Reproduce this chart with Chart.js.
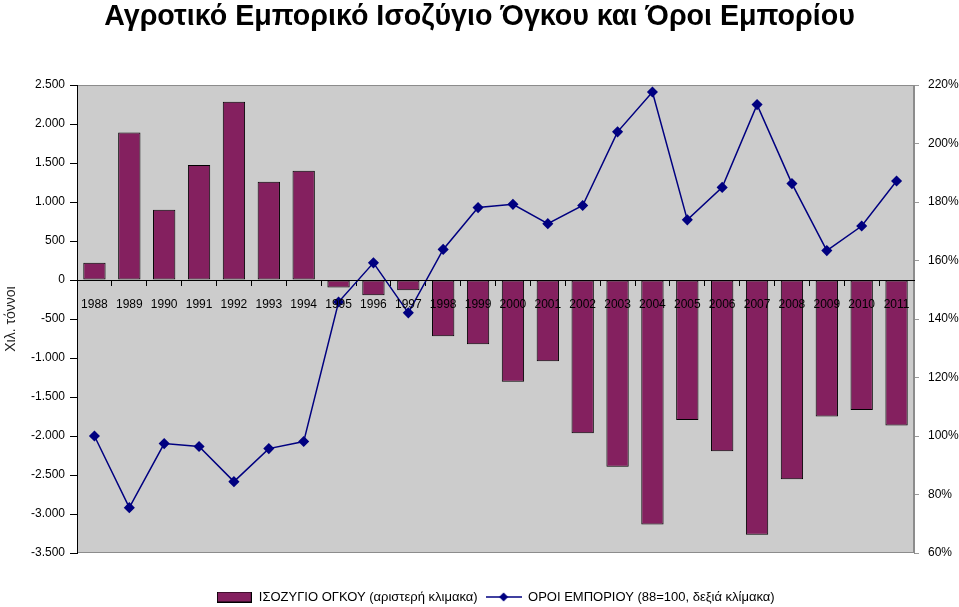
<!DOCTYPE html>
<html>
<head>
<meta charset="utf-8">
<script src="https://cdn.jsdelivr.net/npm/chart.js@4.4.1/dist/chart.umd.min.js"></script>
<style>
  html, body { margin: 0; padding: 0; background: #fff; }
</style>
</head>
<body>
<canvas id="chart" width="959" height="607"></canvas>
<script>
// δεδομένα
var years = ["1988", "1989", "1990", "1991", "1992", "1993", "1994", "1995", "1996", "1997", "1998", "1999",
             "2000", "2001", "2002", "2003", "2004", "2005", "2006", "2007", "2008", "2009", "2010", "2011"];
// ισοζύγιο όγκου, χιλ. τόννοι (αριστερή κλίμακα)
var balance = [220, 1890, 900, 1475, 2285, 1260, 1400, -95, -195, -130, -720, -825,
               -1305, -1040, -1965, -2395, -3135, -1795, -2195, -3265, -2555, -1750, -1665, -1865];
// όροι εμπορίου, 88=100 (δεξιά κλίμακα)
var terms = [100, 75.5, 97.4, 96.4, 84.4, 95.7, 98.1, 145.8, 159.2, 142.1, 163.8, 178.1,
             179.2, 172.6, 178.8, 204, 217.6, 173.9, 185, 213.3, 186.3, 163.4, 171.8, 187.2];
// άξονες
var leftAxis = [-3500, 2500, 500];
var rightAxis = [60, 220, 20];

var barColor = "#84205f";
var lineColor = "#000080";

Chart.defaults.font.family = '"Liberation Sans", Arial, sans-serif';
Chart.defaults.color = "#000";

// γκρι φόντο περιοχής σχεδίασης
var plotBg = {
    id: "plotBg",
    beforeDraw: function (chart) {
        var a = chart.chartArea;
        var ctx = chart.ctx;
        ctx.save();
        ctx.fillStyle = "#cccccc";
        ctx.fillRect(a.left, a.top, a.right - a.left, a.bottom - a.top);
        ctx.strokeStyle = "#8c8c8c";
        ctx.lineWidth = 1;
        ctx.strokeRect(a.left + 0.5, a.top + 0.5, a.right - a.left - 1, a.bottom - a.top - 1);
        ctx.restore();
    }
};

// εικονίδια υπομνήματος
function barIcon() {
    var c = document.createElement("canvas");
    c.width = 35; c.height = 11;
    var g = c.getContext("2d");
    g.fillStyle = barColor;
    g.fillRect(0, 0, 35, 11);
    g.strokeStyle = "#000";
    g.lineWidth = 1;
    g.strokeRect(0.5, 0.5, 34, 10);
    return c;
}
function lineIcon() {
    var c = document.createElement("canvas");
    c.width = 36; c.height = 12;
    var g = c.getContext("2d");
    g.strokeStyle = lineColor;
    g.lineWidth = 1.5;
    g.beginPath(); g.moveTo(0, 6); g.lineTo(36, 6); g.stroke();
    g.fillStyle = lineColor;
    g.beginPath(); g.moveTo(18, 1.5); g.lineTo(22.5, 6); g.lineTo(18, 10.5); g.lineTo(13.5, 6); g.closePath(); g.fill();
    return c;
}
var icons = [barIcon(), lineIcon()];

var ctx = document.getElementById("chart");
var myChart = new Chart(ctx, {
    type: "bar",
    data: {
        labels: years,
        datasets: [
            {
                type: "bar",
                label: "ΙΣΟΖΥΓΙΟ ΟΓΚΟΥ (αριστερή κλιμακα)",
                data: balance,
                yAxisID: "y",
                backgroundColor: barColor,
                borderColor: "#000",
                borderWidth: 1,
                borderSkipped: false,
                categoryPercentage: 1,
                barPercentage: 0.64,
                order: 2
            },
            {
                type: "line",
                label: "ΟΡΟΙ ΕΜΠΟΡΙΟΥ (88=100, δεξιά κλίμακα)",
                data: terms,
                yAxisID: "y1",
                borderColor: lineColor,
                borderWidth: 1.5,
                backgroundColor: lineColor,
                pointStyle: "rectRot",
                pointRadius: 4.5,
                pointBackgroundColor: lineColor,
                pointBorderColor: lineColor,
                lineTension: 0,
                order: 1
            }
        ]
    },
    options: {
        responsive: false,
        animation: false,
        layout: { padding: { left: 0, right: 0, top: 0, bottom: -6.5 } },
        scales: {
            x: {
                type: "category",
                position: { y: 0 },
                offset: true,
                grid: { display: true, drawOnChartArea: false, drawTicks: true, tickLength: 5, color: "#000", offset: true },
                border: { display: true, color: "#000", width: 1, z: 1 },
                ticks: { color: "#000", font: { size: 12 }, maxRotation: 0, autoSkip: false, padding: 12, z: 1 }
            },
            y: {
                position: "left",
                min: leftAxis[0],
                max: leftAxis[1],
                ticks: {
                    stepSize: leftAxis[2],
                    color: "#000",
                    font: { size: 12 },
                    padding: 5,
                    callback: function (v) { return v.toLocaleString("de-DE"); }
                },
                grid: { drawOnChartArea: false, drawTicks: true, tickLength: 7, color: "#000" },
                border: { color: "#000" },
                title: { display: true, text: "Χιλ. τόννοι", font: { size: 14 }, color: "#222", padding: { top: 3, bottom: 0 } },
                afterFit: function (s) { s.width = 77; }
            },
            y1: {
                position: "right",
                min: rightAxis[0],
                max: rightAxis[1],
                ticks: {
                    stepSize: rightAxis[2],
                    color: "#000",
                    font: { size: 12 },
                    padding: 9,
                    callback: function (v) { return v + "%"; }
                },
                grid: { drawOnChartArea: false, drawTicks: true, tickLength: 5, color: "#999" },
                border: { color: "#8c8c8c" },
                afterFit: function (s) { s.width = 45; }
            }
        },
        plugins: {
            title: {
                display: true,
                text: "Αγροτικό Εμπορικό Ισοζύγιο Όγκου και Όροι Εμπορίου",
                font: { size: 28.6, weight: "bold" },
                color: "#000",
                padding: { top: 0, bottom: 50.7 }
            },
            legend: {
                position: "bottom",
                fullSize: false,
                title: { display: true, text: "", font: { size: 10 }, padding: 8.75 },
                labels: {
                    usePointStyle: true,
                    pointStyleWidth: 36,
                    boxHeight: 12,
                    padding: 8,
                    font: { size: 13 },
                    color: "#000",
                    generateLabels: function (chart) {
                        return chart.data.datasets.map(function (ds, i) {
                            return { text: ds.label, pointStyle: icons[i], datasetIndex: i, hidden: false, lineWidth: 0, fillStyle: "transparent", strokeStyle: "transparent", fontColor: "#000" };
                        });
                    }
                }
            },
            tooltip: { enabled: false }
        }
    },
    plugins: [plotBg]
});
</script>
</body>
</html>
